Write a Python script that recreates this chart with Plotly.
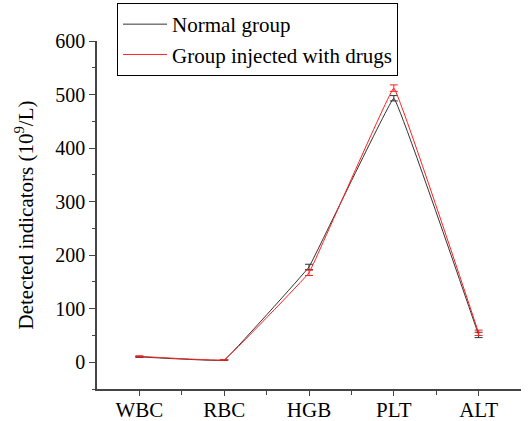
import plotly.graph_objects as go

categories = ["WBC", "RBC", "HGB", "PLT", "ALT"]
normal = [10, 4, 178, 493, 51]
normal_err = [1, 0.5, 5, 5, 5]
drug = [11, 4.5, 167, 512, 55]
drug_err = [1, 0.5, 5, 6, 5]
names = ["Normal group", "Group injected with drugs"]
colors = ["#333333", "#ff2020"]

xpos = list(range(1, len(categories) + 1))
font = "Liberation Serif, Times New Roman, serif"

fig = go.Figure()
for vals, errs, name, col in [(normal, normal_err, names[0], colors[0]),
                              (drug, drug_err, names[1], colors[1])]:
    fig.add_trace(go.Scatter(
        x=xpos, y=vals, name=name, mode="lines",
        line=dict(color=col, width=1, shape="spline", smoothing=0.12),
        error_y=dict(type="data", array=errs, color=col, thickness=1, width=4),
    ))

plot_h = 421 - 41 - 32
plot_w = 521 - 97

fig.update_layout(
    width=530, height=421,
    margin=dict(l=97, r=9, t=41, b=32, autoexpand=False),
    plot_bgcolor="white", paper_bgcolor="white",
    font=dict(family=font, size=20, color="black"),
    showlegend=True,
    legend=dict(x=(117 - 97) / plot_w, y=1 + (41 - 3) / plot_h,
                xref="paper", yref="paper",
                xanchor="left", yanchor="top",
                bordercolor="black", borderwidth=1,
                font=dict(family=font, size=21),
                bgcolor="white", tracegroupgap=0,
                itemwidth=44),
    xaxis=dict(range=[0.5, 5.5], tickvals=xpos, ticktext=categories,
               tickfont=dict(size=21), automargin=False,
               ticklabelstandoff=-4,
               showline=True, linecolor="#444444", linewidth=1.5,
               ticks="outside", ticklen=5, tickcolor="#444444",
               showgrid=False, zeroline=False,
               minor=dict(tickvals=[1.5, 2.5, 3.5, 4.5], ticks="outside",
                          ticklen=4, tickcolor="#444444")),
    yaxis=dict(range=[-50, 600], tickvals=[0, 100, 200, 300, 400, 500, 600],
               tickfont=dict(size=20), automargin=False,
               showline=True, linecolor="#444444", linewidth=1.5,
               ticks="outside", ticklen=6, tickcolor="#444444",
               showgrid=False, zeroline=False,
               minor=dict(dtick=50, ticks="outside", ticklen=3, tickcolor="#444444"),
               title=dict(text="Detected indicators (10<sup>9</sup>/L)",
                          font=dict(family=font, size=21), standoff=16)),
)

fig.write_html("out.html", config={"displayModeBar": False},
               post_script="document.body.style.margin='0';")
